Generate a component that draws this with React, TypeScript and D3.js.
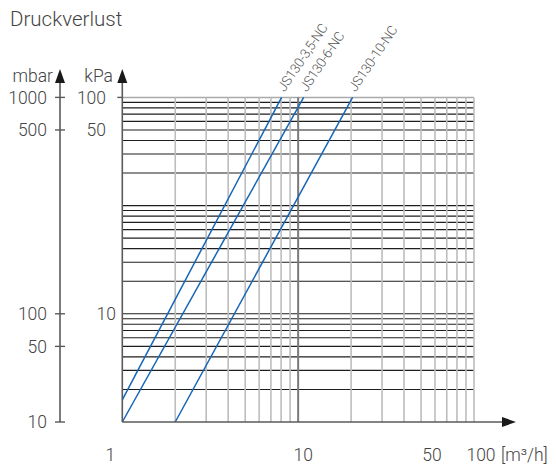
import React from "react";
import * as d3 from "d3";

// ---- data (grid units: log scale, 3 decades) ----
const seriesNames = ["JS130-3,5-NC", "JS130-6-NC", "JS130-10-NC"];
const seriesFlow = [
  [1, 8.05],
  [1, 10.75],
  [2.0, 20.4],
];
const seriesLoss = [
  [1.6, 1000],
  [1, 1000],
  [1, 1000],
];
const mbarTickValues = [1, 5, 10, 500, 1000];
const mbarTickLabels = ["10", "50", "100", "500", "1000"];
const kpaTickValues = [10, 500, 1000];
const kpaTickLabels = ["10", "50", "100"];
const xTickValues = [1, 10, 50, 100];
const xTickLabels = ["1", "10", "50", "100"];

const W = 556;
const H = 471;
const FONT = "Roboto, 'Open Sans', sans-serif";
const TEXT = "#444";
const AXIS = "#5a5a5a";
const BLUE = "#1565b8";

export default function App() {
  const x = d3.scaleLog().domain([1, 100]).range([122.3, 474]);
  const y = d3.scaleLog().domain([1, 1000]).range([422, 97.4]);

  const xGrid: number[] = [];
  for (const dec of [1, 10]) for (let k = 2; k <= 10; k++) xGrid.push(k * dec);
  const yGrid: number[] = [];
  for (const dec of [1, 10, 100]) for (let k = 2; k <= 10; k++) yGrid.push(k * dec);

  const line = d3
    .line<[number, number]>()
    .x((d) => x(d[0]))
    .y((d) => y(d[1]));

  const xL = x(1);
  const xR = x(100);
  const yB = y(1);
  const yT = y(1000);
  const mbarX = 60;
  const xNudge = [-12, 5, 11, 7];

  return (
    <svg
      width={W}
      height={H}
      style={{ position: "absolute", left: 0, top: 0, background: "#fff" }}
      fontFamily={FONT}
    >
      <text x={10} y={26} fontSize={20.5} fontWeight={300} fill={TEXT}>
        Druckverlust
      </text>

      {/* horizontal grid */}
      {yGrid.map((v) => (
        <line
          key={"h" + v}
          x1={xL}
          x2={xR}
          y1={y(v)}
          y2={y(v)}
          stroke={v === 1000 ? "#aaa" : "#1e1e1e"}
          strokeWidth={v === 1000 ? 1.5 : 1.1}
        />
      ))}
      {/* vertical grid */}
      {xGrid.map((v) => (
        <line
          key={"v" + v}
          x1={x(v)}
          x2={x(v)}
          y1={yT}
          y2={yB}
          stroke={v === 10 ? "#7a7a7a" : "#bdbdbd"}
          strokeWidth={v === 10 ? 2 : 1.6}
        />
      ))}

      {/* series */}
      {seriesNames.map((name, i) => {
        const pts = seriesFlow[i].map((f, j) => [f, seriesLoss[i][j]] as [number, number]);
        const top = pts[pts.length - 1];
        const tx = x(top[0]) + 3;
        const ty = y(top[1]) - 5;
        return (
          <g key={name}>
            <path d={line(pts) || ""} fill="none" stroke={BLUE} strokeWidth={1.5} />
            <text
              x={tx}
              y={ty}
              fontSize={13.5}
              fontWeight={300}
              fill="#555"
              letterSpacing={-0.3}
              transform={`rotate(-56 ${tx} ${ty})`}
            >
              {name}
            </text>
          </g>
        );
      })}

      {/* x axis */}
      <line x1={xL} x2={504} y1={yB} y2={yB} stroke={AXIS} strokeWidth={1.6} />
      <path d={`M516,${yB} L502,${yB - 5} L502,${yB + 5} Z`} fill="#1a1a1a" />
      {xTickValues.map((v, i) => (
        <text
          key={"xt" + v}
          x={x(v) + xNudge[i]}
          y={461}
          fontSize={17.5}
          fontWeight={300}
          fill={TEXT}
          textAnchor="middle"
        >
          {xTickLabels[i]}
        </text>
      ))}
      <text x={501} y={461} fontSize={17.5} fontWeight={300} fill={TEXT}>
        [m³/h]
      </text>

      {/* kPa axis */}
      <line x1={xL} x2={xL} y1={yB} y2={82} stroke={AXIS} strokeWidth={1.6} />
      <path d={`M${xL},69 L${xL - 5},83 L${xL + 5},83 Z`} fill="#1a1a1a" />
      <line x1={xL - 5} x2={xL} y1={yT} y2={yT} stroke={AXIS} strokeWidth={1.4} />
      <text x={113} y={82} fontSize={17.5} fontWeight={300} fill={TEXT} textAnchor="end">
        kPa
      </text>
      {kpaTickValues.map((v, i) => (
        <text
          key={"kt" + v}
          x={v === 10 ? 116 : 106}
          y={y(v)}
          dy="0.36em"
          fontSize={17.5}
          fontWeight={300}
          fill={TEXT}
          textAnchor="end"
        >
          {kpaTickLabels[i]}
        </text>
      ))}

      {/* mbar axis */}
      <line x1={mbarX} x2={mbarX} y1={yB} y2={82} stroke={AXIS} strokeWidth={1.6} />
      <path d={`M${mbarX},69 L${mbarX - 5},83 L${mbarX + 5},83 Z`} fill="#1a1a1a" />
      <text x={53} y={82} fontSize={17.5} fontWeight={300} fill={TEXT} textAnchor="end">
        mbar
      </text>
      {mbarTickValues.map((v, i) => (
        <g key={"mt" + v}>
          <line
            x1={mbarX - 5}
            x2={mbarX + 5}
            y1={y(v)}
            y2={y(v)}
            stroke={AXIS}
            strokeWidth={1.4}
          />
          <text
            x={47}
            y={y(v)}
            dy="0.36em"
            fontSize={17.5}
            fontWeight={300}
            fill={TEXT}
            textAnchor="end"
          >
            {mbarTickLabels[i]}
          </text>
        </g>
      ))}
    </svg>
  );
}
